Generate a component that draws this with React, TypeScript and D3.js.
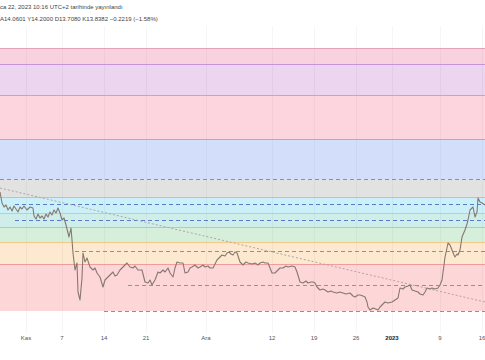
import React from "react";
import * as d3 from "d3";

const W = 485;
const H = 360;

// Header texts
const headerLine1 = "ca 22, 2023 10:16 UTC+2 tarihinde yayınlandı";
const ohlcLabels = ["A", "Y", "D", "K"];
const ohlcValues = ["14.0601", "14.2000", "13.7080", "13.8382"];
const changeText = "−0.2219 (−1.58%)";

// X axis ticks
const tickDates = [
  "2022-11-01", "2022-11-07", "2022-11-14", "2022-11-21", "2022-12-01",
  "2022-12-12", "2022-12-19", "2022-12-26", "2023-01-01", "2023-01-09", "2023-01-16",
];
const tickLabels = ["Kas", "7", "14", "21", "Ara", "12", "19", "26", "2023", "9", "16"];
const tickBold = [false, false, false, false, false, false, false, false, true, false, false];

// Fibonacci-like band levels (price), top to bottom
const bandLevels = [17.775, 17.375, 16.6, 15.5, 14.5, 14.05, 13.65, 13.3, 12.925, 12.375, 11.2];
const bandFills = [
  "#f8d3df", "#ebd5ef", "#fdd5df", "#d3defa", "#e2e2e3",
  "#cbf0f7", "#cfede9", "#d6efda", "#fde9cf", "#fdd6d8",
];
const bandLines = [
  "#e4a3bc", "#c595d8", "#eb95b3", "#aaa8e2", "#a0a0a8",
  "#90d2e2", "#a4d8d4", "#a2d4ae", "#f2c88c", "#ee9c9e",
];

// Horizontal dashed rays
const rayLevels = [14.5, 13.875, 13.475, 12.7, 11.85, 11.2];
const rayStartHours = [-104, -44, -44, 196, 408, 312];
const rayColors = ["#8f8f9a", "#5a7cc6", "#5a7cc6", "#9b7fd0", "#9b7fd0", "#9b7fd0"];

// Diagonal trend line (dotted)
const trendHours = [-104, 1836];
const trendPrices = [14.275, 11.425];

// Price series: hours since 2022-11-01 00:00 UTC, and price
const priceHours = [
  -104, -96, -88, -80, -72, -64, -56, -48, -40, -32, -24, -16, -8, 4, 16, 28, 32, 40, 48, 56,
  64, 72, 80, 88, 96, 104, 112, 120, 128, 136, 144, 152, 160, 168, 172, 180, 184, 188, 196, 204,
  208, 216, 224, 228, 236, 244, 256, 268, 276, 284, 296, 308, 316, 324, 336, 348, 356, 364, 376, 388,
  396, 404, 416, 428, 436, 448, 464, 476, 488, 496, 504, 516, 528, 536, 548, 556, 568, 576, 588, 596,
  604, 616, 628, 636, 648, 656, 664, 676, 688, 696, 708, 716, 728, 736, 748, 756, 764, 776, 784, 796,
  804, 812, 820, 828, 836, 844, 856, 868, 880, 888, 904, 916, 928, 936, 948, 956, 968, 976, 984, 996,
  1008, 1016, 1028, 1040, 1048, 1064, 1076, 1084, 1096, 1108, 1120, 1128, 1140, 1148, 1156, 1164, 1176, 1188, 1196, 1208,
  1220, 1228, 1244, 1256, 1268, 1280, 1296, 1308, 1316, 1328, 1336, 1348, 1356, 1364, 1368, 1376, 1388, 1400, 1408, 1416,
  1424, 1436, 1448, 1464, 1476, 1488, 1496, 1508, 1516, 1528, 1536, 1544, 1556, 1568, 1576, 1588, 1596, 1604, 1616, 1624,
  1636, 1648, 1656, 1664, 1672, 1676, 1684, 1688, 1696, 1704, 1712, 1716, 1724, 1728, 1736, 1744, 1756, 1764, 1768, 1776,
  1784, 1788, 1796, 1804, 1808, 1816, 1824, 1836,
];
const prices = [
  14.175, 13.9, 13.8, 13.85, 13.725, 13.8, 13.7, 13.825, 13.75, 13.675, 13.8, 13.75, 13.825, 13.725, 13.8, 13.775, 13.575, 13.5, 13.625, 13.525,
  13.575, 13.5, 13.625, 13.55, 13.675, 13.6, 13.725, 13.65, 13.775, 13.65, 13.475, 13.525, 13.35, 13.15, 13.05, 13.275, 12.975, 12.65, 12.225, 12.4,
  11.675, 11.475, 12.025, 12.65, 12.425, 12.525, 12.3, 12.225, 12.275, 12.15, 12.05, 11.8, 11.975, 12.025, 12.1, 12.175, 12.075, 12.1, 12.225, 12.3,
  12.35, 12.4, 12.3, 12.275, 12.325, 12.225, 12.225, 11.925, 11.9, 11.975, 11.85, 11.975, 12.175, 12.15, 12.225, 12.175, 12.275, 12.15, 12.05, 12.275,
  12.425, 12.4, 12.4, 12.15, 12.175, 12.275, 12.3, 12.35, 12.275, 12.3, 12.35, 12.3, 12.325, 12.275, 12.275, 12.375, 12.475, 12.55, 12.6, 12.575,
  12.65, 12.675, 12.625, 12.6, 12.675, 12.65, 12.425, 12.35, 12.425, 12.4, 12.375, 12.4, 12.35, 12.4, 12.425, 12.4, 12.4, 12.275, 12.15, 12.15,
  12.225, 12.275, 12.275, 12.325, 12.3, 12.325, 12.3, 12.175, 11.925, 11.9, 11.95, 11.9, 11.925, 11.925, 11.9, 11.8, 11.725, 11.75, 11.725, 11.675,
  11.7, 11.675, 11.65, 11.675, 11.65, 11.625, 11.65, 11.575, 11.55, 11.6, 11.6, 11.575, 11.55, 11.425, 11.3, 11.225, 11.275, 11.25, 11.225, 11.3,
  11.35, 11.425, 11.4, 11.425, 11.475, 11.525, 11.775, 11.75, 11.8, 11.825, 11.85, 11.725, 11.7, 11.675, 11.625, 11.6, 11.675, 11.775, 11.75, 11.775,
  11.75, 11.775, 11.85, 11.975, 12.35, 12.55, 12.775, 12.9, 12.85, 12.725, 12.6, 12.55, 12.625, 12.6, 12.725, 13.05, 13.225, 13.375, 13.475, 13.725,
  13.775, 13.8, 13.55, 13.675, 14.025, 13.925, 13.9, 13.85,
];

const T0 = Date.UTC(2022, 10, 1);
const hourToDate = (h: number) => new Date(T0 + h * 3600 * 1000);
const parseDay = (s: string) => {
  const [y, m, d] = s.split("-").map(Number);
  return new Date(Date.UTC(y, m - 1, d));
};

export default function App() {
  const x = d3.scaleUtc().domain([hourToDate(-104), hourToDate(1836)]).range([0, W]);
  const y = d3.scaleLinear().domain([11.2, 17.775]).range([311, 48]);

  const pricePts = priceHours.map((h, i) => [x(hourToDate(h)), y(prices[i])] as [number, number]);
  const line = d3.line();
  const pricePath = line(pricePts) || "";

  const font = "'Liberation Sans', Arial, sans-serif";

  return (
    <svg
      width={W}
      height={H}
      style={{ position: "absolute", left: 0, top: 0, background: "#ffffff" }}
      fontFamily={font}
    >
      <rect x={0} y={0} width={W} height={H} fill="#ffffff" />

      {/* bands */}
      {bandFills.map((c, i) => (
        <rect
          key={"b" + i}
          x={0}
          y={y(bandLevels[i])}
          width={W}
          height={y(bandLevels[i + 1]) - y(bandLevels[i])}
          fill={c}
        />
      ))}

      {/* vertical grid lines */}
      {tickDates.map((d, i) => {
        const xx = Math.round(x(parseDay(d))) + 0.5;
        return (
          <line key={"g" + i} x1={xx} x2={xx} y1={26} y2={333} stroke="#000" strokeOpacity={0.035} />
        );
      })}

      {/* band top lines */}
      {bandLines.map((c, i) =>
        i === 4 ? null : (
          <line
            key={"bl" + i}
            x1={0}
            x2={W}
            y1={Math.round(y(bandLevels[i])) + 0.5}
            y2={Math.round(y(bandLevels[i])) + 0.5}
            stroke={c}
            strokeWidth={1}
          />
        )
      )}

      {/* dashed rays */}
      {rayLevels.map((lv, i) => {
        const yy = Math.round(y(lv)) + 0.5;
        return (
          <line
            key={"r" + i}
            x1={x(hourToDate(rayStartHours[i]))}
            x2={W}
            y1={yy}
            y2={yy}
            stroke={rayColors[i]}
            strokeWidth={1}
            strokeDasharray="4 3"
          />
        );
      })}

      {/* dotted trend line */}
      <line
        x1={x(hourToDate(trendHours[0]))}
        y1={y(trendPrices[0])}
        x2={x(hourToDate(trendHours[1]))}
        y2={y(trendPrices[1])}
        stroke="#b3a3a3"
        strokeWidth={1}
        strokeDasharray="2 2"
      />

      {/* price */}
      <path d={pricePath} fill="none" stroke="#86786e" strokeWidth={1.1} strokeLinejoin="round" />

      {/* header */}
      <text x={0} y={9} fontSize={6} fill="#444">{headerLine1}</text>
      <text x={0} y={21} fontSize={6} fill="#444">
        {ohlcLabels.map((l, i) => (
          <tspan key={"o" + i}>
            {(i > 0 ? "  " : "") + l}
            <tspan>{ohlcValues[i]}</tspan>
          </tspan>
        ))}
        <tspan>{"  " + changeText}</tspan>
      </text>

      {/* x axis labels */}
      {tickDates.map((d, i) => (
        <text
          key={"t" + i}
          x={x(parseDay(d))}
          y={340}
          fontSize={6}
          textAnchor="middle"
          fill={tickBold[i] ? "#222" : "#555"}
          fontWeight={tickBold[i] ? "bold" : "normal"}
        >
          {tickLabels[i]}
        </text>
      ))}
    </svg>
  );
}
